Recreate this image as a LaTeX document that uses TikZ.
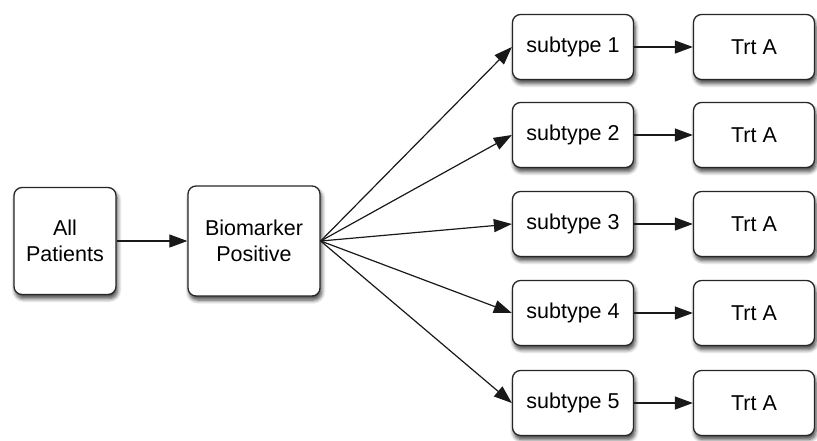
\documentclass[tikz,border=0pt]{standalone}
\usepackage{fontspec}
\setmainfont{Liberation Sans}
\usetikzlibrary{arrows.meta,shadows.blur}

\begin{document}
\begin{tikzpicture}[x=1pt,y=-1pt,
  box/.style={draw=black!85, line width=1.3pt, rounded corners=8pt, fill=white,
    align=center, font=\fontsize{21.5}{26}\selectfont, inner sep=2pt,
    blur shadow={shadow xshift=1.5pt, shadow yshift=-4pt, shadow blur steps=6,
      shadow blur radius=4pt, shadow opacity=75}},
  arr/.style={-{Triangle[length=18pt,width=13pt]}, line width=1.2pt, black!90}]
\useasboundingbox (0,0) rectangle (817,440);

% first two boxes
\node[box, minimum width=102pt, minimum height=107pt] (all) at (65,241) {All\\Patients};
\node[box, minimum width=132pt, minimum height=110pt] (bio) at (254,241) {Biomarker\\Positive};
\draw[arr] (all.east) -- (bio.west);

% subtypes and treatments
\foreach \i/\y in {1/47,2/135,3/224,4/313,5/403} {
  \node[box, minimum width=121pt, minimum height=65pt] (sub\i) at (573,\y) {subtype \i};
  \node[box, minimum width=121pt, minimum height=65pt] (trt\i) at (754,\y) {Trt A};
  \draw[arr] (bio.east) -- (sub\i.west);
  \draw[arr] (sub\i.east) -- (trt\i.west);
}

\end{tikzpicture}
\end{document}
